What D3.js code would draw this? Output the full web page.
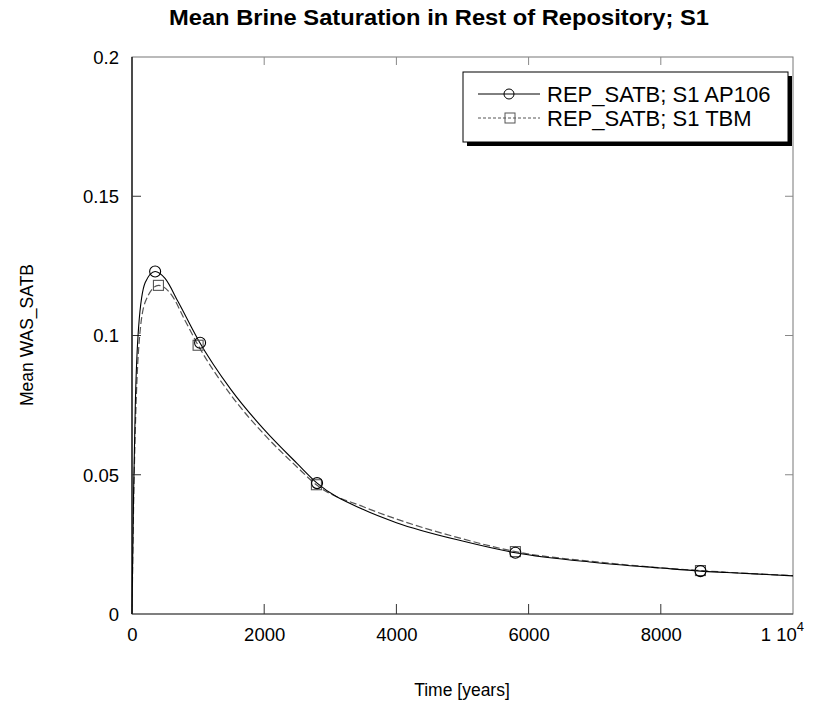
<!DOCTYPE html>
<html>
<head>
<meta charset="utf-8">
<script src="https://cdn.jsdelivr.net/npm/d3@7"></script>
<style>
  html, body { margin: 0; padding: 0; background: #fff; }
  svg { display: block; }
  text { font-family: "Liberation Sans", Arial, sans-serif; fill: #000; }
</style>
</head>
<body>
<svg id="chart" width="821" height="714"></svg>
<script>
// ---- data ----
const title = "Mean Brine Saturation in Rest of Repository; S1";
const xLabel = "Time [years]";
const yLabel = "Mean WAS_SATB";
const seriesNames = ["REP_SATB; S1 AP106", "REP_SATB; S1 TBM"];

const timeAP106 = [0, 10, 25, 50, 100, 200, 350, 500, 700, 1000, 1500, 2000, 2500, 2800, 3500, 4000, 5000, 5800, 7000, 8000, 8600, 9000, 10000];
const satAP106  = [0, 0.02, 0.045, 0.075, 0.103, 0.119, 0.123, 0.1205, 0.112, 0.0985, 0.0805, 0.0662, 0.0540, 0.0470, 0.0375, 0.0328, 0.0262, 0.0220, 0.0185, 0.0165, 0.0154, 0.0149, 0.0137];

const timeTBM = [0, 10, 25, 50, 100, 200, 400, 600, 800, 1000, 1500, 2000, 2500, 2800, 3500, 4000, 5000, 5800, 7000, 8000, 8600, 9000, 10000];
const satTBM  = [0, 0.017, 0.04, 0.066, 0.095, 0.112, 0.118, 0.1145, 0.1055, 0.0965, 0.0785, 0.0645, 0.0527, 0.0462, 0.0385, 0.0341, 0.0270, 0.0224, 0.0188, 0.0166, 0.0156, 0.0150, 0.0138];

const markerTimesAP106 = [350, 1030, 2800, 5800, 8600];
const markerTimesTBM   = [400, 1000, 2790, 5800, 8600];

const xTicks = [0, 2000, 4000, 6000, 8000, 10000];
const yTicks = [0, 0.05, 0.1, 0.15, 0.2];

// ---- layout ----
const svg = d3.select("#chart");
const L = 132, R = 793, T = 57, B = 614;

const x = d3.scaleLinear().domain([0, 10000]).range([L, R]);
const y = d3.scaleLinear().domain([0, 0.2]).range([B, T]);

// title
svg.append("text").attr("x", 439).attr("y", 25).attr("text-anchor", "middle")
  .attr("textLength", 540).attr("lengthAdjust", "spacingAndGlyphs")
  .style("font-size", "22px").style("font-weight", "bold").text(title);

// frame
svg.append("rect").attr("x", L).attr("y", T).attr("width", R - L).attr("height", B - T)
  .attr("fill", "none").attr("stroke", "#777").attr("stroke-width", 1);
svg.append("line").attr("x1", L).attr("x2", L).attr("y1", T).attr("y2", B)
  .attr("stroke", "#000").attr("stroke-width", 1.2);
svg.append("line").attr("x1", L).attr("x2", R).attr("y1", B).attr("y2", B)
  .attr("stroke", "#444").attr("stroke-width", 1.2);

// axes via d3
const xAxisBottom = d3.axisBottom(x).tickValues(xTicks).tickSize(0).tickPadding(14)
  .tickFormat(d => d === 10000 ? "" : d3.format("d")(d));
const gx = svg.append("g").attr("transform", `translate(0,${B})`).call(xAxisBottom);
gx.select(".domain").remove();
gx.selectAll("text").style("font-size", "18.5px").style("font-family", '"Liberation Sans", Arial, sans-serif').attr("fill", "#000");

const yAxisLeft = d3.axisLeft(y).tickValues(yTicks).tickSize(0).tickPadding(13)
  .tickFormat(d => d3.format("")(+d.toFixed(2)));
const gy = svg.append("g").attr("transform", `translate(${L},0)`).call(yAxisLeft);
gy.select(".domain").remove();
gy.selectAll("text").style("font-size", "18.5px").style("font-family", '"Liberation Sans", Arial, sans-serif').attr("fill", "#000").attr("dy", "0.35em");

// "1 10^4" label
const lastTick = svg.append("text").attr("x", 804).attr("y", B + 27).attr("text-anchor", "end")
  .style("font-size", "18.5px");
lastTick.append("tspan").text("1 10");
lastTick.append("tspan").attr("dy", -10).style("font-size", "13px").text("4");

// inward ticks
const innerX = xTicks.filter(d => d > 0 && d < 10000);
const innerY = yTicks.filter(d => d > 0 && d < 0.2);
svg.append("g").selectAll("line").data(innerX).join("line")
  .attr("x1", d => x(d)).attr("x2", d => x(d)).attr("y1", B).attr("y2", B - 10)
  .attr("stroke", "#333");
svg.append("g").selectAll("line").data(innerX).join("line")
  .attr("x1", d => x(d)).attr("x2", d => x(d)).attr("y1", T).attr("y2", T + 8)
  .attr("stroke", "#888");
svg.append("g").selectAll("line").data(innerY).join("line")
  .attr("x1", L).attr("x2", L + 9).attr("y1", d => y(d)).attr("y2", d => y(d))
  .attr("stroke", "#333");
svg.append("g").selectAll("line").data(innerY).join("line")
  .attr("x1", R).attr("x2", R - 8).attr("y1", d => y(d)).attr("y2", d => y(d))
  .attr("stroke", "#888");

// axis labels
svg.append("text").attr("x", 462).attr("y", 696).attr("text-anchor", "middle")
  .style("font-size", "17.5px").text(xLabel);
svg.append("text").attr("transform", `translate(33,335) rotate(-90)`).attr("text-anchor", "middle")
  .style("font-size", "17.5px").text(yLabel);

// lines
const line = d3.line().x(d => x(d[0])).y(d => y(d[1])).curve(d3.curveMonotoneX);
const dataAP = timeAP106.map((t, i) => [t, satAP106[i]]);
const dataTB = timeTBM.map((t, i) => [t, satTBM[i]]);

svg.append("path").datum(dataTB).attr("d", line).attr("fill", "none")
  .attr("stroke", "#555").attr("stroke-width", 1.2).attr("stroke-dasharray", "7,3");
svg.append("path").datum(dataAP).attr("d", line).attr("fill", "none")
  .attr("stroke", "#000").attr("stroke-width", 1.1);

// markers placed on the series values
function interp(times, vals, t) {
  for (let i = 1; i < times.length; i++) {
    if (t <= times[i]) {
      const f = (t - times[i - 1]) / (times[i] - times[i - 1]);
      return vals[i - 1] + f * (vals[i] - vals[i - 1]);
    }
  }
  return vals[vals.length - 1];
}
svg.append("g").selectAll("rect").data(markerTimesTBM).join("rect")
  .attr("x", d => x(d) - 5).attr("y", d => y(interp(timeTBM, satTBM, d)) - 5)
  .attr("width", 10).attr("height", 10).attr("fill", "none").attr("stroke", "#555").attr("stroke-width", 1.1);
svg.append("g").selectAll("circle").data(markerTimesAP106).join("circle")
  .attr("cx", d => x(d)).attr("cy", d => y(interp(timeAP106, satAP106, d)))
  .attr("r", 5.5).attr("fill", "none").attr("stroke", "#000").attr("stroke-width", 1.1);

// legend
const lg = svg.append("g");
lg.append("rect").attr("x", 467).attr("y", 76).attr("width", 325).attr("height", 70).attr("fill", "#000");
lg.append("rect").attr("x", 463).attr("y", 72).attr("width", 325).attr("height", 70)
  .attr("fill", "#fff").attr("stroke", "#000").attr("stroke-width", 1);
const rows = [
  { name: seriesNames[0], yy: 94, dash: null, color: "#000", mark: "circle" },
  { name: seriesNames[1], yy: 118, dash: "3,2", color: "#555", mark: "square" }
];
rows.forEach(r => {
  lg.append("line").attr("x1", 478).attr("x2", 540).attr("y1", r.yy).attr("y2", r.yy)
    .attr("stroke", r.color).attr("stroke-width", 1).attr("stroke-dasharray", r.dash);
  if (r.mark === "circle") {
    lg.append("circle").attr("cx", 509).attr("cy", r.yy).attr("r", 5).attr("fill", "none").attr("stroke", "#000");
  } else {
    lg.append("rect").attr("x", 505).attr("y", r.yy - 5).attr("width", 10).attr("height", 10).attr("fill", "none").attr("stroke", "#555");
  }
  lg.append("text").attr("x", 547).attr("y", r.yy + 8).style("font-size", "22px").text(r.name);
});
</script>
</body>
</html>
